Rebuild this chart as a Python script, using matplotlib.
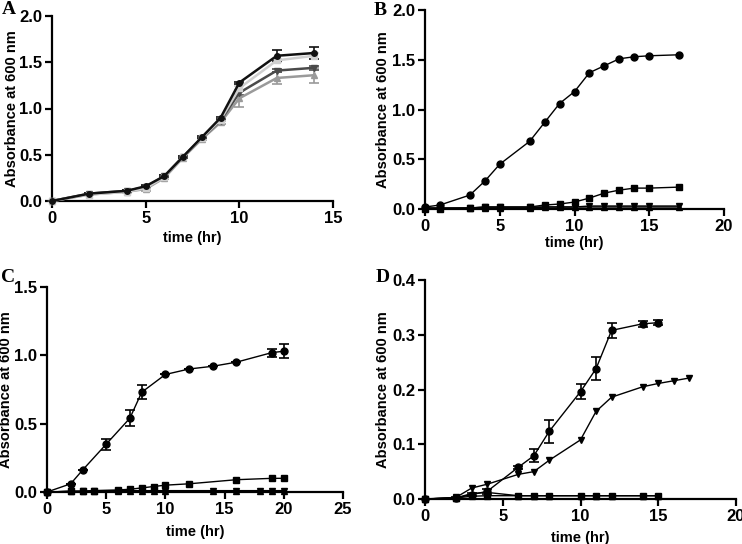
import numpy as np
import matplotlib
matplotlib.use("Agg")
import matplotlib.pyplot as plt
from matplotlib.ticker import FormatStrFormatter

plt.rcParams['font.family'] = ['Liberation Sans', 'DejaVu Sans']
plt.rcParams['font.weight'] = 'bold'

# ---- panel A ----
tA = [0, 2, 4, 5, 6, 7, 8, 9, 10, 12, 14]
A_black = [0, 0.08, 0.11, 0.16, 0.27, 0.48, 0.69, 0.90, 1.28, 1.57, 1.60]
A_black_err = [0, 0.01, 0.01, 0.01, 0.01, 0.01, 0.01, 0.01, 0.01, 0.06, 0.07]
A_light = [0, 0.07, 0.10, 0.14, 0.26, 0.48, 0.68, 0.88, 1.22, 1.52, 1.57]
A_light_err = [0, 0.01, 0.01, 0.01, 0.01, 0.01, 0.01, 0.01, 0.02, 0.02, 0.03]
A_dark = [0, 0.08, 0.11, 0.15, 0.27, 0.48, 0.68, 0.87, 1.17, 1.41, 1.44]
A_dark_err = [0, 0.01, 0.01, 0.01, 0.01, 0.01, 0.01, 0.01, 0.02, 0.02, 0.02]
A_mid = [0, 0.07, 0.10, 0.13, 0.25, 0.47, 0.67, 0.85, 1.11, 1.33, 1.36]
A_mid_err = [0, 0.01, 0.01, 0.02, 0.01, 0.01, 0.01, 0.02, 0.09, 0.07, 0.08]

# ---- panel B ----
tB = [0, 1, 3, 4, 5, 7, 8, 9, 10, 11, 12, 13, 14, 15, 17]
B_circ = [0.02, 0.04, 0.14, 0.28, 0.45, 0.68, 0.87, 1.06, 1.18, 1.37, 1.44, 1.51, 1.53, 1.54, 1.55]
B_sq = [0.0, 0.0, 0.01, 0.02, 0.02, 0.02, 0.04, 0.05, 0.07, 0.11, 0.16, 0.19, 0.21, 0.21, 0.22]
B_tdown = [0.01, 0.01, 0.01, 0.02, 0.02, 0.02, 0.02, 0.02, 0.02, 0.03, 0.03, 0.03, 0.03, 0.03, 0.03]
B_tup = [0.01, 0.01, 0.01, 0.01, 0.01, 0.01, 0.02, 0.02, 0.02, 0.02, 0.02, 0.02, 0.02, 0.02, 0.02]

# ---- panel C ----
tC = [0, 2, 3, 5, 7, 8, 10, 12, 14, 16, 19, 20]
C_circ = [0, 0.06, 0.16, 0.35, 0.54, 0.73, 0.86, 0.90, 0.92, 0.95, 1.02, 1.03]
C_circ_err = [0, 0, 0, 0.04, 0.06, 0.05, 0, 0, 0, 0, 0.03, 0.05]
tC_sq = [0, 2, 3, 4, 6, 7, 8, 9, 10, 12, 16, 19, 20]
C_sq = [0, 0.005, 0.005, 0.01, 0.015, 0.02, 0.03, 0.04, 0.05, 0.06, 0.09, 0.10, 0.10]
tC_tri = [0, 2, 3, 4, 6, 7, 8, 9, 10, 14, 16, 18, 19, 20]
C_tdown = [0, 0.005, 0.005, 0.01, 0.01, 0.01, 0.01, 0.01, 0.01, 0.01, 0.01, 0.01, 0.01, 0.01]
C_tup = [0, 0.005, 0.005, 0.005, 0.005, 0.005, 0.005, 0.005, 0.005, 0.005, 0.005, 0.005, 0.005, 0.005]

# ---- panel D ----
tD_circ = [0, 2, 3, 4, 6, 7, 8, 10, 11, 12, 14, 15]
D_circ = [0, 0.002, 0.008, 0.014, 0.058, 0.079, 0.124, 0.196, 0.238, 0.308, 0.320, 0.322]
D_circ_err = [0, 0.001, 0.003, 0.004, 0.003, 0.012, 0.021, 0.014, 0.021, 0.014, 0.005, 0.005]
tD_tri = [0, 2, 3, 4, 6, 7, 8, 10, 11, 12, 14, 15, 16, 17]
D_tdown = [0, 0.003, 0.020, 0.027, 0.045, 0.050, 0.071, 0.108, 0.160, 0.186, 0.205, 0.211, 0.216, 0.221]
tD_sq = [0, 2, 3, 4, 6, 7, 8, 10, 11, 12, 14, 15]
D_sq = [0, 0.002, 0.005, 0.006, 0.006, 0.006, 0.006, 0.006, 0.006, 0.006, 0.006, 0.006]
D_tup = [0, 0.002, 0.010, 0.012, 0.006, 0.006, 0.006, 0.006, 0.006, 0.006, 0.006, 0.006]

W, H = 742, 544
fig = plt.figure(figsize=(W / 100, H / 100), dpi=100)


def make_ax(left, right, bottom, top, ylab_x, xlab_y):
    ax = fig.add_axes([left / W, 1 - bottom / H, (right - left) / W, (bottom - top) / H])
    for s in ['top', 'right']:
        ax.spines[s].set_visible(False)
    for s in ['left', 'bottom']:
        ax.spines[s].set_linewidth(1.6)
    ax.tick_params(direction='out', width=1.6, length=5, labelsize=12, pad=2)
    ax.set_xlabel('time (hr)', fontsize=10.5, fontweight='bold', va='center')
    ax.set_ylabel('Absorbance at 600 nm', fontsize=10.5, fontweight='bold')
    # place axis labels where the reference has them (figure pixels)
    ax.yaxis.set_label_coords(ylab_x / W, 1 - (bottom + top) / 2 / H, transform=fig.transFigure)
    ax.xaxis.set_label_coords((left + right) / 2 / W, 1 - xlab_y / H, transform=fig.transFigure)
    ax.yaxis.set_major_formatter(FormatStrFormatter('%.1f'))
    return ax


def series(ax, x, y, marker, color='black', err=None, lw=1.0, ms=5):
    ax.errorbar(x, y, yerr=err, marker=marker, color=color, lw=lw, ms=ms,
                capsize=3.5, elinewidth=1.2, capthick=1.2, clip_on=False, zorder=3)


# A
ax = make_ax(52, 333, 201, 16, 19, 238)
series(ax, tA, A_mid, '^', '#9a9a9a', A_mid_err, lw=1.8, ms=4)
series(ax, tA, A_dark, 'v', '#4a4a4a', A_dark_err, lw=1.8, ms=4)
series(ax, tA, A_light, 's', '#cfcfcf', A_light_err, lw=1.8, ms=4)
series(ax, tA, A_black, 'o', '#111111', A_black_err, lw=1.8, ms=4)
ax.set_xlim(0, 15)
ax.set_ylim(0, 2.0)
ax.set_xticks([0, 5, 10, 15])
ax.set_yticks([0, 0.5, 1.0, 1.5, 2.0])

# B
ax = make_ax(425, 724, 209, 10, 390, 243)
series(ax, tB, B_tup, '^')
series(ax, tB, B_tdown, 'v')
series(ax, tB, B_sq, 's')
series(ax, tB, B_circ, 'o')
ax.set_xlim(0, 20)
ax.set_ylim(0, 2.0)
ax.set_xticks([0, 5, 10, 15, 20])
ax.set_yticks([0, 0.5, 1.0, 1.5, 2.0])

# C
ax = make_ax(47, 343, 492, 287, 13, 532)
series(ax, tC_tri, C_tup, '^')
series(ax, tC_tri, C_tdown, 'v')
series(ax, tC_sq, C_sq, 's')
series(ax, tC, C_circ, 'o', err=C_circ_err)
ax.set_xlim(0, 25)
ax.set_ylim(0, 1.5)
ax.set_xticks([0, 5, 10, 15, 20, 25])
ax.set_yticks([0, 0.5, 1.0, 1.5])

# D
ax = make_ax(425, 736, 499, 280, 390, 538)
series(ax, tD_sq, D_tup, '^')
series(ax, tD_sq, D_sq, 's')
series(ax, tD_tri, D_tdown, 'v')
series(ax, tD_circ, D_circ, 'o', err=D_circ_err)
ax.set_xlim(0, 20)
ax.set_ylim(0, 0.4)
ax.set_xticks([0, 5, 10, 15, 20])
ax.set_yticks([0, 0.1, 0.2, 0.3, 0.4])

# panel letters
for letter, x, y in [('A', 2, 14), ('B', 374, 15), ('C', 1, 282), ('D', 376, 282)]:
    fig.text(x / W, 1 - y / H, letter, fontsize=14, fontweight='bold', va='baseline',
             family=['Liberation Serif', 'DejaVu Serif'])

fig.savefig('out.png', dpi=100)
